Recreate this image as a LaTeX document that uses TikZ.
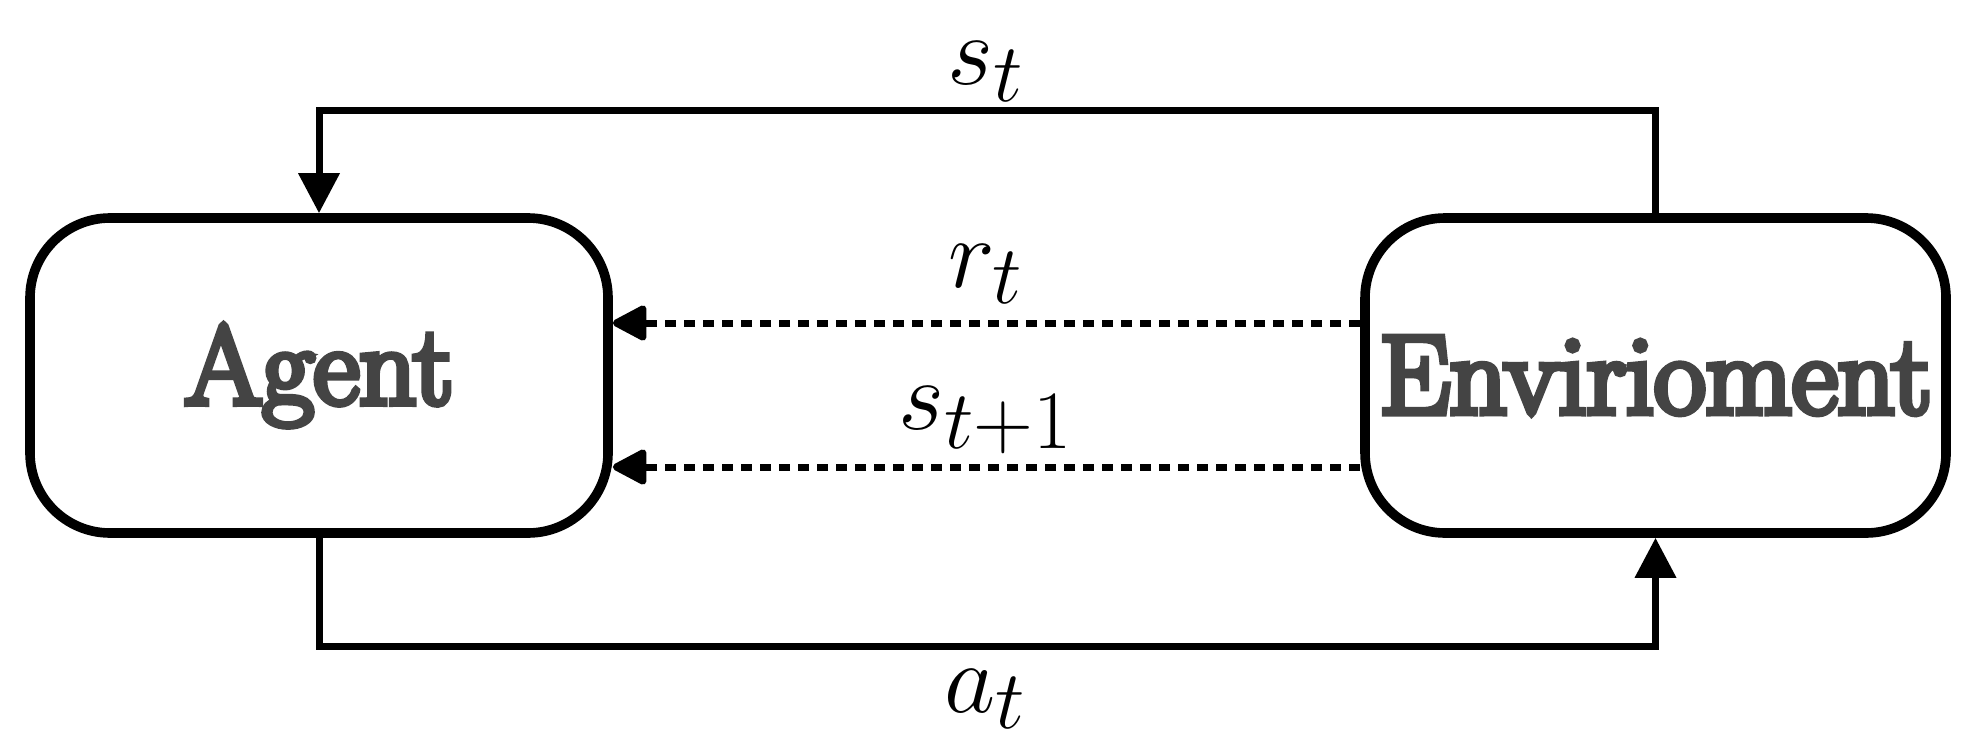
\documentclass[tikz,border=0pt]{standalone}
\usepackage{fontspec}
\usetikzlibrary{arrows.meta,calc}
\definecolor{txtgray}{HTML}{444444}
\newfontfamily\boxfont[FakeBold=6]{Latin Modern Roman}
\tikzset{
  px/.style={x=0.25pt,y=-0.25pt},
  blockbox/.style={draw=black, line width=2.4pt, rounded corners=20pt, fill=white,
    minimum height=78.75pt, inner sep=0pt, text=txtgray,
    font=\boxfont\fontsize{28}{33}\selectfont},
  conn/.style={line width=1.75pt, -{Triangle[length=10pt,width=10pt]}},
  dashconn/.style={line width=1.75pt, dash pattern=on 2.75pt off 2pt,
    -{Triangle[length=9.5pt,width=9.5pt,round]}},
  lbl/.style={anchor=base, inner sep=0pt, font=\fontsize{27.5}{32}\selectfont}
}
\begin{document}
\begin{tikzpicture}[px]
\useasboundingbox (0,0) rectangle (1977,748);
\node[blockbox, minimum width=144.5pt] (agent) at (319,375.5) {Agent};
\node[blockbox, minimum width=145.25pt] (env) at (1655.5,375.5) {Envirioment};
\coordinate (top) at (0,111);
\coordinate (bot) at (0,646);
\coordinate (rrow) at (0,323);
\coordinate (srow) at (0,467);
\draw[conn] (env.north) -- (env.north |- top) -| (agent.north);
\draw[conn] (agent.south) -- (agent.south |- bot) -| (env.south);
\draw[dashconn] (env.west |- rrow) -- (agent.east |- rrow);
\draw[dashconn] (env.west |- srow) -- (agent.east |- srow);
\node[lbl] (lst) at (986,85) {$s_t$};
\node[lbl] (lrt) at (986,287) {$r_t$};
\node[lbl] (lst1) at (986,429) {$s_{t+1}$};
\node[lbl] (lat) at (986,712) {$a_t$};
\end{tikzpicture}
\end{document}
